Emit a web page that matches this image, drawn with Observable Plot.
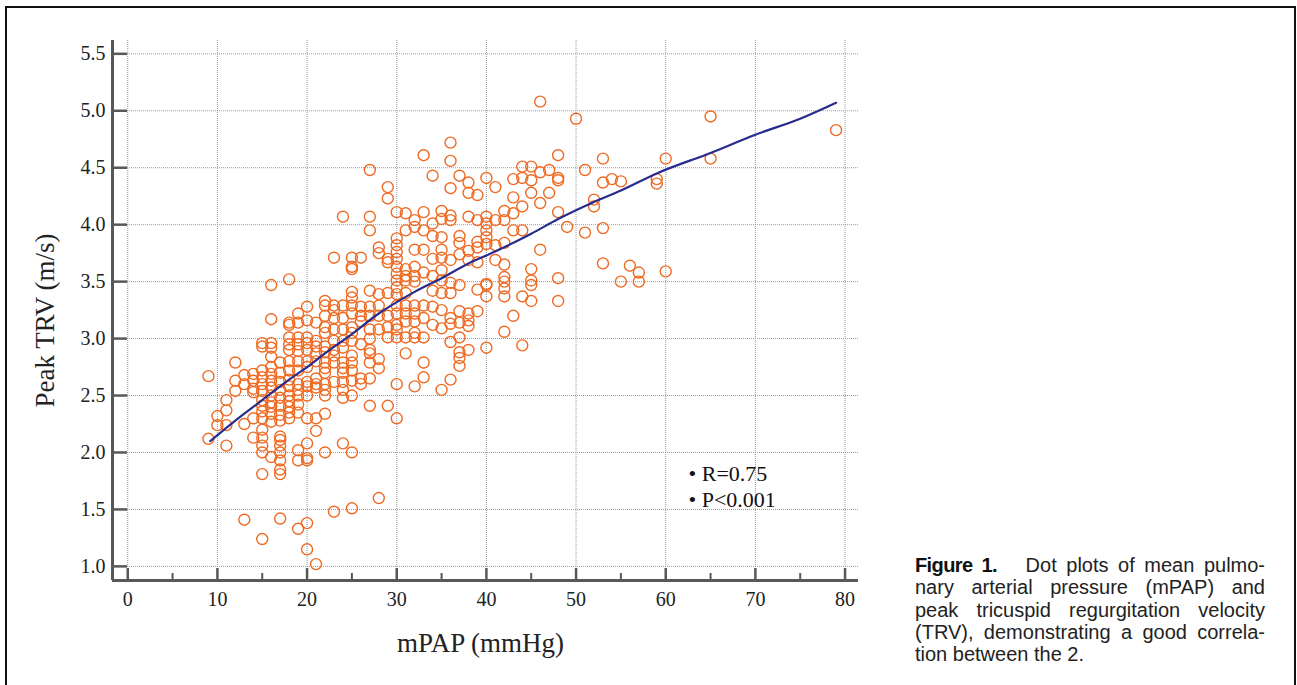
<!DOCTYPE html>
<html>
<head>
<meta charset="utf-8">
<script src="https://cdn.jsdelivr.net/npm/d3@7"></script>
<script src="https://cdn.jsdelivr.net/npm/@observablehq/plot@0.6"></script>
<style>
  html, body { margin: 0; padding: 0; background: #fff; }
  #page { position: relative; width: 1297px; height: 685px; overflow: hidden; background: #fff; }
  #frame { position: absolute; left: 5px; top: 6px; width: 1291px; height: 720px; border: 2.5px solid #111; box-sizing: border-box; z-index: 2; pointer-events: none; }
  #chart { position: absolute; left: 0; top: 0; z-index: 1; }
  #caption { position: absolute; left: 915px; top: 554px; width: 350px; font-family: "Liberation Sans", Arial, sans-serif; font-size: 20px; line-height: 22.3px; color: #222; z-index: 1; }
  #caption .ln { text-align: justify; text-align-last: justify; white-space: nowrap; }
  #caption .last { text-align: left; text-align-last: left; }
  #caption b { font-family: "Liberation Sans Narrow", "Liberation Sans", sans-serif; font-stretch: condensed; font-weight: bold; color: #111; letter-spacing: -0.6px; }
</style>
</head>
<body>
<div id="page">
  <div id="frame"></div>
  <div id="chart"></div>
  <div id="caption"></div>
</div>
<script>
// ---- data ----
const mpapLevels = [9, 10, 11, 12, 13, 14, 15, 16, 17, 18, 19, 20, 21, 22, 23, 24, 25, 26, 27, 28, 29, 30,
  31, 32, 33, 34, 35, 36, 37, 38, 39, 40, 41, 42, 43, 44, 45, 46, 47, 48, 49, 50, 51, 52, 53, 54, 55, 56, 57, 59, 60, 65, 79];
const trvByLevel = [
  [2.67, 2.12],
  [2.32, 2.24],
  [2.46, 2.37, 2.24, 2.06],
  [2.79, 2.63, 2.54],
  [2.68, 2.60, 2.25, 1.41],
  [2.69, 2.63, 2.56, 2.53, 2.30, 2.13],
  [2.96, 2.93, 2.72, 2.66, 2.60, 2.54, 2.46, 2.41, 2.36, 2.30, 2.20, 2.13, 2.06, 2.00, 1.81, 1.24],
  [3.47, 3.17, 2.96, 2.92, 2.84, 2.75, 2.69, 2.63, 2.57, 2.50, 2.44, 2.40, 2.34, 2.27, 1.96],
  [2.79, 2.70, 2.62, 2.55, 2.48, 2.41, 2.33, 2.28, 2.14, 2.11, 2.06, 2.00, 1.93, 1.85, 1.81, 1.42],
  [3.52, 3.14, 3.12, 3.01, 2.95, 2.90, 2.80, 2.72, 2.64, 2.58, 2.50, 2.45, 2.40, 2.35, 2.30],
  [3.22, 3.14, 3.01, 2.95, 2.89, 2.80, 2.72, 2.60, 2.55, 2.50, 2.42, 2.35, 2.02, 1.93, 1.33],
  [3.28, 3.16, 3.01, 2.96, 2.90, 2.80, 2.75, 2.62, 2.58, 2.50, 2.30, 2.08, 1.95, 1.93, 1.38, 1.15],
  [3.14, 2.98, 2.93, 2.87, 2.80, 2.65, 2.60, 2.57, 2.30, 2.19, 1.02],
  [3.33, 3.29, 3.20, 3.10, 3.05, 2.93, 2.88, 2.79, 2.74, 2.70, 2.60, 2.55, 2.50, 2.34, 2.00],
  [3.71, 3.29, 3.25, 3.18, 3.08, 2.98, 2.90, 2.85, 2.79, 2.62, 1.48],
  [4.07, 3.29, 3.18, 3.08, 2.98, 2.92, 2.79, 2.74, 2.70, 2.62, 2.55, 2.48, 2.08],
  [3.71, 3.63, 3.61, 3.41, 3.36, 3.29, 3.22, 3.10, 3.05, 2.98, 2.85, 2.79, 2.72, 2.63, 2.50, 2.00, 1.51],
  [3.71, 3.28, 3.20, 3.15, 2.95, 2.65, 2.60],
  [4.48, 4.07, 3.95, 3.42, 3.28, 3.20, 3.08, 3.00, 2.90, 2.87, 2.79, 2.65, 2.41],
  [3.80, 3.75, 3.39, 3.29, 3.20, 3.08, 2.82, 2.74, 1.60],
  [4.33, 4.23, 3.70, 3.67, 3.40, 3.20, 3.10, 3.01, 2.41],
  [4.11, 3.88, 3.82, 3.76, 3.70, 3.63, 3.57, 3.51, 3.45, 3.39, 3.29, 3.22, 3.12, 3.08, 3.01, 2.60, 2.30],
  [4.10, 3.95, 3.61, 3.55, 3.51, 3.40, 3.29, 3.22, 3.15, 3.01, 2.87],
  [4.04, 3.98, 3.78, 3.63, 3.55, 3.50, 3.29, 3.22, 3.15, 3.05, 3.01, 2.58],
  [4.61, 4.11, 3.95, 3.78, 3.58, 3.29, 3.18, 3.01, 2.79, 2.66],
  [4.43, 4.01, 3.90, 3.70, 3.55, 3.42, 3.28, 3.12],
  [4.12, 4.05, 3.89, 3.78, 3.71, 3.60, 3.51, 3.40, 3.25, 3.09, 2.55],
  [4.72, 4.56, 4.32, 4.08, 4.04, 3.69, 3.49, 3.40, 3.18, 3.13, 2.97, 2.64],
  [4.43, 3.90, 3.84, 3.74, 3.47, 3.24, 3.14, 3.01, 2.88, 2.83, 2.76],
  [4.37, 4.28, 4.07, 3.77, 3.69, 3.22, 3.16, 3.11, 2.90],
  [4.26, 4.04, 3.85, 3.80, 3.67, 3.43, 3.24],
  [4.41, 4.07, 4.01, 3.95, 3.89, 3.83, 3.48, 3.47, 3.37, 2.92],
  [4.33, 4.04, 3.82, 3.69],
  [4.12, 4.04, 3.84, 3.65, 3.54, 3.50, 3.44, 3.37, 3.06],
  [4.40, 4.24, 4.10, 3.95, 3.20],
  [4.51, 4.41, 4.16, 3.95, 3.37, 2.94],
  [4.51, 4.39, 4.28, 3.61, 3.51, 3.47, 3.33],
  [5.08, 4.46, 4.19, 3.78],
  [4.48, 4.28],
  [4.61, 4.41, 4.39, 4.11, 3.53, 3.33],
  [3.98],
  [4.93],
  [4.48, 3.93],
  [4.22, 4.16],
  [4.58, 4.37, 3.97, 3.66],
  [4.40],
  [4.38, 3.50],
  [3.64],
  [3.58, 3.50],
  [4.40, 4.36],
  [4.58, 3.59],
  [4.95, 4.58],
  [4.83]
];
const fitMpap = [9.2, 12, 15, 18, 20, 22, 25, 28, 30, 32, 35, 38, 40, 45, 48, 52, 55, 59, 65, 70, 75, 79];
const fitTrv  = [2.10, 2.28, 2.46, 2.64, 2.75, 2.87, 3.04, 3.22, 3.32, 3.41, 3.53, 3.66, 3.73, 3.92, 4.05, 4.20, 4.30, 4.45, 4.63, 4.79, 4.93, 5.07];
const xTicks = [0, 10, 20, 30, 40, 50, 60, 70, 80];
const xMinorTicks = [5, 15, 25, 35, 45, 55, 65, 75];
const yTicks = [1.0, 1.5, 2.0, 2.5, 3.0, 3.5, 4.0, 4.5, 5.0, 5.5];
const xDomain = [-1.7, 81.5];
const yDomain = [0.876, 5.617];
const xTitle = "mPAP (mmHg)";
const yTitle = "Peak TRV (m/s)";
const statLabels = ["\u2022 R=0.75", "\u2022 P<0.001"];
const captionLines = [
  ["Figure 1.", "Dot plots of mean pulmo-"],
  ["", "nary arterial pressure (mPAP) and"],
  ["", "peak tricuspid regurgitation velocity"],
  ["", "(TRV), demonstrating a good correla-"],
  ["", "tion between the 2."]
];

// ---- build ----
const points = mpapLevels.flatMap((m, i) => trvByLevel[i].map(t => ({mpap: m, trv: t})));
const fit = fitMpap.map((m, i) => ({mpap: m, trv: fitTrv[i]}));

const W = 880, H = 685;
const mL = 112, mR = 22, mT = 40, mB = 105;
const plotW = W - mL - mR, plotH = H - mT - mB;
const axisColor = "#585858";

const chart = Plot.plot({
  width: W,
  height: H,
  marginLeft: mL,
  marginRight: mR,
  marginTop: mT,
  marginBottom: mB,
  style: {fontFamily: "'Liberation Serif', 'Times New Roman', serif", fontSize: "20px", color: "#222", background: "transparent"},
  x: {domain: xDomain, nice: false},
  y: {domain: yDomain, nice: false},
  marks: [
    Plot.gridX(xTicks, {stroke: "#9a9a9a", strokeOpacity: 1, strokeWidth: 1, strokeDasharray: "1,1"}),
    Plot.gridY(yTicks, {stroke: "#9a9a9a", strokeOpacity: 1, strokeWidth: 1, strokeDasharray: "1,1", insetLeft: 15}),
    Plot.dot(points, {x: "mpap", y: "trv", r: 5.5, stroke: "#ef6a22", strokeWidth: 1.4, fill: "none"}),
    Plot.line(fit, {x: "mpap", y: "trv", stroke: "#272c8e", strokeWidth: 2.2, curve: "monotone-x"}),
    Plot.ruleX([xDomain[0]], {stroke: axisColor, strokeWidth: 3}),
    Plot.ruleY([yDomain[0]], {stroke: axisColor, strokeWidth: 3}),
    Plot.tickX(xTicks, {x: d => d, stroke: axisColor, strokeWidth: 2.5, insetTop: plotH - 12}),
    Plot.tickX(xMinorTicks, {x: d => d, stroke: axisColor, strokeWidth: 2, insetTop: plotH - 7}),
    Plot.tickY(yTicks, {y: d => d, stroke: axisColor, strokeWidth: 2.5, insetRight: plotW - 15}),
    Plot.axisX(xTicks, {tickSize: 0, tickPadding: 11, label: null, fontSize: 20}),
    Plot.axisY(yTicks, {tickSize: 0, tickPadding: 7, label: null, tickFormat: d3.format(".1f"), fontSize: 20}),
    Plot.text([yTitle], {frameAnchor: "left", dx: -67, dy: 10, rotate: -90, textAnchor: "middle", lineAnchor: "middle", fontSize: 27, fill: "#222"}),
    Plot.text([xTitle], {frameAnchor: "bottom", dx: -5, dy: 63, textAnchor: "middle", lineAnchor: "middle", fontSize: 27, fill: "#222"}),
    Plot.text([statLabels.join("\n")], {frameAnchor: "top-left", dx: 576, dy: 422, textAnchor: "start", lineAnchor: "top", lineHeight: 1.18, fontSize: 22, fill: "#111"})
  ]
});
document.getElementById("chart").appendChild(chart);

const cap = document.getElementById("caption");
captionLines.forEach(([bold, rest], i) => {
  const div = document.createElement("div");
  div.className = "ln" + (i === captionLines.length - 1 ? " last" : "");
  if (bold) {
    const b = document.createElement("b");
    b.textContent = bold;
    div.appendChild(b);
    div.appendChild(document.createTextNode("\u00a0\u00a0 "));
  }
  div.appendChild(document.createTextNode(rest));
  cap.appendChild(div);
});
</script>
</body>
</html>
